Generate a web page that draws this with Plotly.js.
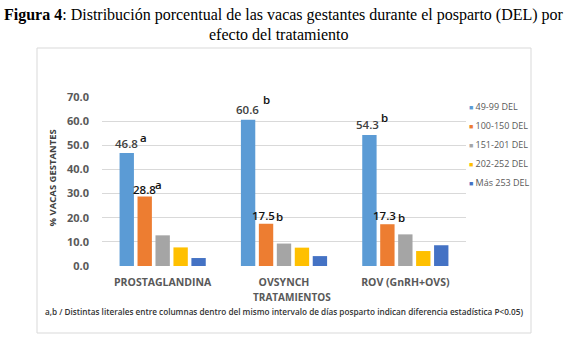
<!DOCTYPE html>
<html><head><meta charset="utf-8">
<script src="https://cdn.plot.ly/plotly-3.0.1.min.js"></script>
<style>body{margin:0;background:#fff}</style>
</head><body><div id="chart" style="width:569px;height:346px"></div>
<script>
const categories = ["PROSTAGLANDINA", "OVSYNCH", "ROV (GnRH+OVS)"];
const seriesNames = ["49-99 DEL", "100-150 DEL", "151-201 DEL", "202-252 DEL", "Más 253 DEL"];
const s49_99 = [46.8, 60.6, 54.3];
const s100_150 = [28.8, 17.5, 17.3];
const s151_201 = [12.7, 9.3, 13.1];
const s202_252 = [7.7, 7.6, 6.2];
const sMas253 = [3.3, 4.1, 8.6];
const letters49 = ["a", "b", "b"];
const letters100 = ["a", "b", "b"];
const yTicks = [0, 10, 20, 30, 40, 50, 60, 70];

const colors = ["#5B9BD5", "#ED7D31", "#A5A5A5", "#FFC000", "#4472C4"];
const allSeries = [s49_99, s100_150, s151_201, s202_252, sMas253];

const traces = allSeries.map((vals, i) => ({
  type: "bar", x: categories, y: vals, name: seriesNames[i],
  marker: {color: colors[i]}, showlegend: false, hoverinfo: "skip"
}));
seriesNames.forEach((n, i) => traces.push({
  type: "scatter", mode: "markers", x: [null], y: [null],
  name: '<span style="color:' + colors[i] + ';font-size:7px">■</span> ' + n,
  marker: {size: 0, color: "rgba(0,0,0,0)"}, showlegend: true
}));

// label placement (pixels) relative to each bar
const slot = 364 / 3 * 0.74 / 5;
const numPos49 = [{dx: 0, dy: 9.5}, {dx: -1, dy: 10}, {dx: -1.5, dy: 10.5}];
const letPos49 = [{dx: 16.5, dy: 16}, {dx: 18, dy: 20}, {dx: 15, dy: 17}];
const numPos100 = [{dx: 0, dy: 7}, {dx: -2.5, dy: 8.5}, {dx: -2.5, dy: 8.5}];
const letPos100 = [{dx: 13.5, dy: 12}, {dx: 13, dy: 7}, {dx: 14.5, dy: 7}];

const ann = [];
const lblFont = {family: "Open Sans", size: 11.5, color: "#404040", weight: 600};
const blkFont = {family: "Open Sans", size: 11.5, color: "#111111", weight: 600};
categories.forEach((c, k) => {
  ann.push({x: c, y: s49_99[k], xref: "x", yref: "y", text: s49_99[k].toFixed(1), showarrow: false,
    xanchor: "center", yanchor: "middle", xshift: -2 * slot + numPos49[k].dx, yshift: numPos49[k].dy, font: lblFont});
  ann.push({x: c, y: s49_99[k], xref: "x", yref: "y", text: letters49[k], showarrow: false,
    xanchor: "center", yanchor: "middle", xshift: -2 * slot + letPos49[k].dx, yshift: letPos49[k].dy, font: blkFont});
  ann.push({x: c, y: s100_150[k], xref: "x", yref: "y", text: s100_150[k].toFixed(1), showarrow: false,
    xanchor: "center", yanchor: "middle", xshift: -slot + numPos100[k].dx, yshift: numPos100[k].dy, font: blkFont});
  ann.push({x: c, y: s100_150[k], xref: "x", yref: "y", text: letters100[k], showarrow: false,
    xanchor: "center", yanchor: "middle", xshift: -slot + letPos100[k].dx, yshift: letPos100[k].dy, font: blkFont});
});
// axis titles, footnote, figure title
ann.push({xref: "paper", yref: "paper", x: -0.135, y: 0.523, xanchor: "center", yanchor: "middle",
  text: "% VACAS GESTANTES", textangle: -90, showarrow: false,
  font: {family: "Open Sans", size: 9.5, color: "#404040", weight: 700}});
ann.push({xref: "paper", yref: "paper", x: (291.5 - 102) / 364, y: (266 - 297) / 169, xanchor: "center", yanchor: "middle",
  text: "TRATAMIENTOS", showarrow: false, font: {family: "Open Sans", size: 10, color: "#595959", weight: 700}});
ann.push({xref: "paper", yref: "paper", x: 0.5, y: (266 - 311) / 169, xanchor: "center", yanchor: "middle",
  text: "a,b / Distintas literales entre columnas dentro del mismo intervalo de días posparto indican diferencia estadística P&lt;0.05)",
  showarrow: false, font: {family: "Open Sans", size: 8.2, color: "#333333", weight: 600}});
ann.push({xref: "paper", yref: "paper", x: 0.5, y: (266 - 15) / 169, xanchor: "center", yanchor: "middle",
  text: "<b>Figura 4</b>: Distribución porcentual de las vacas gestantes durante el posparto (DEL) por",
  showarrow: false, font: {family: "Liberation Serif", size: 16, color: "#000"}});
ann.push({xref: "paper", yref: "paper", x: (278 - 102) / 364, y: (266 - 34) / 169, xanchor: "center", yanchor: "middle",
  text: "efecto del tratamiento",
  showarrow: false, font: {family: "Liberation Serif", size: 16, color: "#000"}});

const layout = {
  width: 569, height: 346,
  margin: {l: 102, r: 103, t: 97, b: 80},
  paper_bgcolor: "#fff", plot_bgcolor: "#fff",
  barmode: "group", bargap: 0.26, bargroupgap: 0.2,
  showlegend: true,
  legend: {x: (429 - 102) / 364, y: (266 - 92) / 169, xanchor: "left", yanchor: "top",
    font: {family: "Open Sans", size: 9, color: "#595959"}, itemwidth: 30, bgcolor: "rgba(0,0,0,0)"},
  xaxis: {type: "category", tickfont: {family: "Open Sans", size: 10.5, color: "#595959", weight: 700},
    showline: false, ticks: "", showgrid: false, ticklabelstandoff: 8, fixedrange: true},
  yaxis: {range: [0, 70], tickvals: yTicks, ticktext: yTicks.map(v => v.toFixed(1)),
    tickfont: {family: "Open Sans", size: 11, color: "#595959", weight: 700},
    gridcolor: "#d9d9d9", gridwidth: 1, zeroline: false, showline: false, ticks: "",
    ticklabelstandoff: 12, fixedrange: true},
  shapes: [{type: "rect", xref: "paper", yref: "paper",
    x0: (37 - 102) / 364, x1: (531 - 102) / 364, y0: (266 - 333) / 169, y1: (266 - 48) / 169,
    line: {color: "#d9d9d9", width: 1}, fillcolor: "rgba(0,0,0,0)", layer: "below"}],
  annotations: ann
};
Plotly.newPlot("chart", traces, layout, {displayModeBar: false, staticPlot: true});
</script></body></html>
